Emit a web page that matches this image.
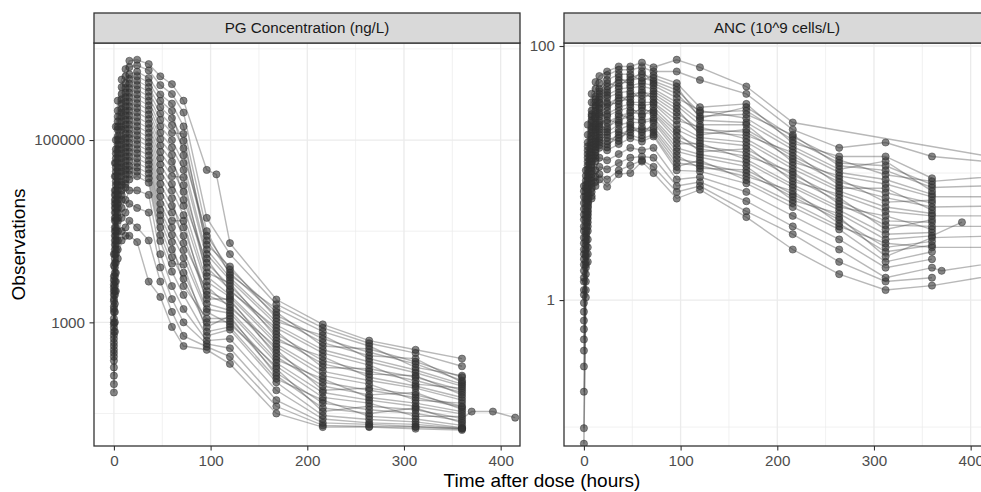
<!DOCTYPE html>
<html>
<head>
<meta charset="utf-8">
<script src="https://cdn.jsdelivr.net/npm/d3@7"></script>
<style>
  body { margin: 0; background: #fff; }
  text { font-family: 'Liberation Sans', Arial, sans-serif; }
</style>
</head>
<body>
<div id="chart"></div>
<script>
// nominal sampling times (hours) and observed values, one row per time, one column per subject
const pgTimes = [0, 1, 2, 4, 8, 12, 16, 24, 36, 48, 60, 72, 96, 120, 168, 216, 264, 312, 360]
const pgValues = [
  [5600, 4200, 3200, 2900, 2600, 2400, 2200, 2000, 1800, 1700, 1500, 1400, 1300, 1100, 1000, 950, 870, 790, 720, 660, 600, 550, 500, 460, 420, 380, 320, 260, 210, 170],
  [56000, 40000, 28000, 25000, 22000, 20000, 18000, 16000, 14000, 13000, 11000, 10000, 8900, 7900, 7100, 6300, 5600, 5000, 4500, 4000, 3500, 3200, 2800, 2500, 2200, 2000, 1600, 1300, 1000, 790],
  [140000, 100000, 79000, 71000, 63000, 56000, 50000, 45000, 40000, 35000, 32000, 28000, 25000, 22000, 20000, 18000, 16000, 14000, 13000, 11000, 10000, 8900, 7900, 7100, 6300, 5600, 4500, 3500, 2800, 2200],
  [270000, 210000, 180000, 160000, 140000, 130000, 110000, 100000, 89000, 79000, 71000, 63000, 56000, 50000, 45000, 40000, 35000, 32000, 28000, 25000, 22000, 20000, 18000, 16000, 14000, 13000, 10000, 7900, 6300, 5000],
  [460000, 380000, 320000, 280000, 250000, 220000, 200000, 180000, 160000, 140000, 130000, 110000, 100000, 89000, 79000, 71000, 63000, 56000, 50000, 45000, 40000, 35000, 32000, 28000, 25000, 22000, 18000, 14000, 10000, 7900],
  [600000, 500000, 417000, 372000, 331000, 295000, 263000, 234000, 209000, 186000, 166000, 148000, 132000, 117000, 105000, 93000, 83000, 74000, 66000, 59000, 52000, 47000, 42000, 37000, 33000, 30000, 22000, 16000, 11000, 8900],
  [740000, 630000, 525000, 468000, 417000, 372000, 331000, 295000, 263000, 234000, 209000, 186000, 166000, 148000, 132000, 117000, 105000, 93000, 83000, 74000, 66000, 59000, 52000, 47000, 42000, 37000, 28000, 20000, 13000, 8900],
  [760000, 660000, 562000, 501000, 447000, 398000, 355000, 316000, 282000, 251000, 224000, 200000, 178000, 158000, 141000, 126000, 112000, 100000, 89000, 79000, 71000, 63000, 56000, 50000, 45000, 40000, 28000, 18000, 11000, 7600],
  [680000, 580000, 479000, 427000, 380000, 339000, 302000, 269000, 240000, 214000, 191000, 170000, 151000, 135000, 120000, 107000, 95000, 85000, 76000, 68000, 60000, 54000, 48000, 43000, 38000, 34000, 25000, 16000, 7900, 2800],
  [500000, 400000, 316000, 269000, 229000, 195000, 166000, 141000, 120000, 102000, 87000, 74000, 63000, 54000, 46000, 39000, 33000, 28000, 24000, 20000, 17000, 15000, 13000, 11000, 9100, 7800, 5600, 4000, 2800, 1900],
  [410000, 320000, 251000, 209000, 174000, 145000, 120000, 100000, 83000, 69000, 58000, 48000, 40000, 33000, 28000, 23000, 19000, 16000, 13000, 11000, 9100, 7600, 6300, 5200, 4400, 3600, 2500, 1800, 1300, 890],
  [270000, 200000, 141000, 68000, 98000, 81000, 117000, 56000, 47000, 22000, 32000, 27000, 39000, 19000, 15000, 7400, 11000, 8900, 13000, 6200, 5100, 2500, 3500, 3000, 4300, 2000, 1400, 1000, 710, 550],
  [47000, 14000, 10000, 8900, 7900, 7100, 6300, 5600, 5000, 4500, 4000, 3500, 3200, 2800, 2500, 2200, 2000, 1800, 1600, 1400, 1300, 1100, 1000, 890, 790, 710, 630, 580, 540, 500],
  [7400, 5600, 3300, 3800, 3500, 4100, 3100, 2900, 2200, 2500, 2300, 2700, 2000, 1900, 1450, 1700, 1550, 1800, 1350, 1260, 955, 1100, 1020, 1180, 891, 832, 660, 520, 420, 350],
  [1780, 1580, 1410, 1300, 1200, 1110, 1020, 940, 870, 800, 740, 680, 630, 580, 540, 500, 460, 420, 390, 360, 330, 310, 280, 260, 240, 220, 180, 140, 120, 100],
  [950, 870, 790, 550, 660, 600, 720, 500, 460, 320, 380, 350, 420, 290, 260, 180, 220, 200, 240, 170, 150, 105, 130, 115, 140, 95, 87, 79, 74, 71],
  [630, 590, 550, 510, 470, 430, 400, 370, 340, 310, 290, 270, 250, 230, 210, 190, 180, 160, 150, 140, 130, 120, 110, 100, 93, 86, 79, 76, 72, 71],
  [500, 460, 320, 370, 350, 400, 300, 280, 210, 250, 230, 260, 200, 190, 140, 160, 150, 170, 130, 120, 93, 110, 100, 115, 87, 81, 76, 72, 71, 68],
  [400, 330, 260, 250, 230, 220, 210, 200, 190, 180, 170, 160, 150, 140, 130, 120, 117, 111, 105, 99, 93, 88, 83, 79, 74, 70, 69, 68, 68, 66]
]
// off-schedule samples: [subject, time, value]
const pgLate = [[0, 106, 42000], [21, 370, 105], [21, 392, 105], [21, 415, 90]]

const ancTimes = [0, 2, 4, 8, 12, 16, 24, 36, 48, 60, 72, 96, 120, 168, 216, 264, 312, 360, 432]
const ancValues = [
  [7.9, 7.2, 6.5, 5.8, 5.2, 4.7, 4.3, 3.8, 3.5, 3.1, 2.8, 2.5, 2.3, 2.1, 1.9, 1.7, 1.5, 1.4, 1.2, 1.1, 0.95, 0.81, 0.69, 0.59, 0.49, 0.40, 0.30, 0.19, 0.098, 0.074],
  [10.5, 9.5, 8.7, 8.1, 7.6, 7.1, 6.6, 6.2, 5.8, 5.4, 5.0, 4.7, 4.4, 4.1, 3.8, 3.5, 3.3, 3.1, 2.9, 2.7, 2.5, 2.3, 2.2, 2.0, 1.9, 1.8, 1.6, 1.4, 1.2, 1.05],
  [24, 20, 17.4, 16.2, 15.1, 14.1, 13.2, 12.3, 11.5, 10.7, 10.0, 9.3, 8.7, 8.1, 7.6, 7.1, 6.6, 6.2, 5.8, 5.4, 5.0, 4.7, 4.4, 4.1, 3.8, 3.5, 3.0, 2.6, 2.3, 2.0],
  [42, 36, 31, 29, 28, 26, 25, 23, 22, 21, 19.5, 18.4, 17.4, 16.4, 15.5, 14.6, 13.8, 13.0, 12.3, 11.6, 11.0, 10.4, 9.8, 9.2, 8.7, 8.2, 7.6, 7.1, 6.6, 6.3],
  [52, 46, 40, 38, 36, 34, 33, 31, 29, 28, 27, 25, 24, 23, 22, 21, 19.6, 18.6, 17.7, 16.8, 16.0, 15.2, 14.5, 13.7, 13.1, 12.4, 10.5, 9.3, 8.5, 7.9],
  [58, 51, 46, 44, 42, 40, 38, 36, 35, 33, 32, 30, 29, 28, 26, 25, 24, 23, 22, 21, 20, 19, 18.2, 17.4, 16.6, 15.8, 13.2, 11.2, 9.8, 8.9],
  [63, 59, 54, 51, 48, 45, 43, 41, 39, 36, 35, 33, 31, 29, 28, 26, 25, 23, 22, 21, 20, 19, 17.8, 16.8, 15.9, 15.1, 12.6, 10.7, 8.9, 7.8],
  [69, 65, 60, 48, 54, 51, 57, 46, 43, 35, 39, 37, 41, 33, 31, 25, 28, 26, 29, 24, 22, 17.9, 20, 18.9, 21, 16.9, 14.1, 12.0, 10.5, 9.8],
  [69, 65, 60, 57, 54, 52, 49, 47, 44, 42, 40, 38, 36, 35, 33, 31, 30, 28, 27, 25, 24, 23, 22, 21, 19.8, 18.8, 15.8, 13.2, 11.5, 10.0],
  [74, 68, 53, 60, 56, 63, 51, 48, 38, 43, 41, 45, 36, 34, 28, 31, 29, 33, 26, 25, 19.8, 22, 21, 23, 18.7, 17.7, 15.1, 13.5, 12.6, 12.3],
  [68, 63, 59, 56, 53, 51, 49, 46, 44, 42, 40, 38, 36, 35, 33, 31, 30, 29, 27, 26, 25, 23, 22, 21, 20, 19.4, 15.8, 13.2, 11.2, 10.0],
  [78, 63, 51, 48, 45, 42, 39, 36, 34, 32, 30, 28, 26, 24, 22, 21, 19.5, 18.2, 17.0, 15.8, 14.8, 13.8, 12.9, 12.0, 11.2, 10.5, 8.9, 7.9, 7.1, 6.3],
  [68, 54, 33, 27, 30, 28, 31, 26, 24, 20, 22, 21, 23, 19.0, 18.0, 14.7, 16.3, 15.5, 17.1, 14.0, 13.3, 10.9, 12.0, 11.4, 12.6, 10.3, 9.3, 8.5, 7.9, 7.4],
  [48, 42, 35, 33, 31, 29, 27, 25, 24, 22, 21, 19.8, 18.6, 17.5, 16.4, 15.5, 14.5, 13.6, 12.8, 12.1, 11.3, 10.6, 10.0, 9.4, 8.8, 8.3, 7.1, 6.0, 5.0, 4.5],
  [25, 22, 17.2, 19.3, 18.2, 20, 16.2, 15.3, 12.2, 13.6, 12.9, 14.5, 11.5, 10.8, 8.6, 9.7, 9.1, 10.2, 8.1, 7.7, 6.1, 6.8, 6.5, 7.2, 5.8, 5.4, 4.6, 3.8, 3.3, 2.5],
  [null, 15.8, 13.5, 12.7, 12.0, 11.4, 10.7, 10.1, 9.5, 9.0, 8.5, 8.0, 7.6, 7.2, 6.8, 6.4, 6.0, 5.7, 5.4, 5.1, 4.8, 4.5, 4.3, 4.0, 3.8, 3.6, 3.0, 2.5, 2.0, 1.6],
  [null, 17.4, 13.5, 9.7, 11.4, 10.5, 12.4, 8.9, 8.2, 5.9, 7.0, 6.4, 7.6, 5.4, 5.0, 3.6, 4.2, 3.9, 4.6, 3.3, 3.0, 2.2, 2.6, 2.4, 2.8, 2.0, 1.8, 1.5, 1.4, 1.2],
  [null, 13.5, 9.1, 8.6, 8.1, 7.7, 7.2, 6.8, 6.5, 6.1, 5.8, 5.4, 5.1, 4.8, 4.6, 4.3, 4.1, 3.8, 3.6, 3.4, 3.2, 3.1, 2.9, 2.7, 2.6, 2.4, 2.1, 1.8, 1.5, 1.3],
  [13, 12, null, 9.5, null, 8, null, null, 6.5, null, null, 5.5, null, null, 4.6, null, null, 3.8, null, null, null, 3.2, null, null, 2.6, null, null, 2.0, null, 1.6]
]
const ancLate = [[27, 370, 1.7], [20, 391, 4.1]]

const xTicks = [0, 100, 200, 300, 400]
const xMinor = [50, 150, 250, 350]
const pgTicks = [1000, 100000]
const pgMinor = [100, 10000, 1000000]
const ancTicks = [1, 100]
const ancMinor = [0.1, 10]

const width = 981
const height = 492
const panelTop = 43
const panelBottom = 446
const panelWidth = 426
const stripTop = 13

const svg = d3
  .select('#chart')
  .append('svg')
  .attr('width', width)
  .attr('height', height)

const xPositionScale = d3
  .scaleLinear()
  .domain([-20.6, 420])
  .range([0, panelWidth])

function toSubjects(times, rows, late) {
  return d3.range(rows[0].length).map(k => {
    const pts = times
      .map((t, i) => ({ t: t, v: rows[i][k] }))
      .filter(d => d.v != null)
    late.filter(l => l[0] === k).forEach(l => pts.push({ t: l[1], v: l[2] }))
    return pts.sort((a, b) => a.t - b.t)
  })
}

const panels = [
  {
    id: 'pg',
    label: 'PG Concentration (ng/L)',
    left: 94,
    subjects: toSubjects(pgTimes, pgValues, pgLate),
    yDomain: [44, 1160000],
    yTicks: pgTicks,
    yMinor: pgMinor
  },
  {
    id: 'anc',
    label: 'ANC (10^9 cells/L)',
    left: 564,
    subjects: toSubjects(ancTimes, ancValues, ancLate),
    yDomain: [0.071, 105.6],
    yTicks: ancTicks,
    yMinor: ancMinor
  }
]

panels.forEach(p => {
  const yPositionScale = d3
    .scaleLog()
    .domain(p.yDomain)
    .range([panelBottom - panelTop, 0])

  const g = svg
    .append('g')
    .attr('transform', 'translate(' + p.left + ',' + panelTop + ')')

  g.append('clipPath')
    .attr('id', 'clip-' + p.id)
    .append('rect')
    .attr('width', panelWidth)
    .attr('height', panelBottom - panelTop)

  // grid
  g.selectAll('.minor-x')
    .data(xMinor)
    .enter()
    .append('line')
    .attr('x1', d => xPositionScale(d))
    .attr('x2', d => xPositionScale(d))
    .attr('y1', 0)
    .attr('y2', panelBottom - panelTop)
    .attr('stroke', '#ebebeb')
    .attr('stroke-width', 0.7)
  g.selectAll('.minor-y')
    .data(p.yMinor)
    .enter()
    .append('line')
    .attr('x1', 0)
    .attr('x2', panelWidth)
    .attr('y1', d => yPositionScale(d))
    .attr('y2', d => yPositionScale(d))
    .attr('stroke', '#ebebeb')
    .attr('stroke-width', 0.7)
  g.selectAll('.major-x')
    .data(xTicks)
    .enter()
    .append('line')
    .attr('x1', d => xPositionScale(d))
    .attr('x2', d => xPositionScale(d))
    .attr('y1', 0)
    .attr('y2', panelBottom - panelTop)
    .attr('stroke', '#ebebeb')
    .attr('stroke-width', 1.3)
  g.selectAll('.major-y')
    .data(p.yTicks)
    .enter()
    .append('line')
    .attr('x1', 0)
    .attr('x2', panelWidth)
    .attr('y1', d => yPositionScale(d))
    .attr('y2', d => yPositionScale(d))
    .attr('stroke', '#ebebeb')
    .attr('stroke-width', 1.3)

  const plot = g.append('g').attr('clip-path', 'url(#clip-' + p.id + ')')

  const line = d3
    .line()
    .x(d => xPositionScale(d.t))
    .y(d => yPositionScale(d.v))

  plot
    .selectAll('.subject')
    .data(p.subjects)
    .enter()
    .append('path')
    .attr('class', 'subject')
    .attr('d', line)
    .attr('fill', 'none')
    .attr('stroke', '#333333')
    .attr('stroke-opacity', 0.35)
    .attr('stroke-width', 1.4)

  plot
    .selectAll('.obs')
    .data(p.subjects.flat())
    .enter()
    .append('circle')
    .attr('class', 'obs')
    .attr('cx', d => xPositionScale(d.t))
    .attr('cy', d => yPositionScale(d.v))
    .attr('r', 3.6)
    .attr('fill', '#333333')
    .attr('fill-opacity', 0.6)
    .attr('stroke', '#333333')
    .attr('stroke-opacity', 0.6)
    .attr('stroke-width', 0.8)

  // axes
  const yAxis = d3
    .axisLeft(yPositionScale)
    .tickValues(p.yTicks)
    .tickFormat(d => String(d))
    .tickSize(4.5)
    .tickPadding(4.5)
  const yg = g.append('g').attr('class', 'axis y-axis').call(yAxis)

  const xAxis = d3
    .axisBottom(xPositionScale)
    .tickValues(xTicks)
    .tickFormat(d => String(d))
    .tickSize(4.5)
    .tickPadding(4.7)
  const xg = g
    .append('g')
    .attr('class', 'axis x-axis')
    .attr('transform', 'translate(0,' + (panelBottom - panelTop) + ')')
    .call(xAxis)

  ;[yg, xg].forEach(a => {
    a.select('.domain').remove()
    a.selectAll('line').attr('stroke', '#333333').attr('stroke-width', 1.1)
    a.selectAll('text')
      .attr('fill', '#4d4d4d')
      .attr('font-size', 15.2)
      .attr('font-family', "'Liberation Sans', Arial, sans-serif")
  })

  g.append('rect')
    .attr('width', panelWidth)
    .attr('height', panelBottom - panelTop)
    .attr('fill', 'none')
    .attr('stroke', '#333333')
    .attr('stroke-width', 1.3)

  // strip
  svg
    .append('rect')
    .attr('x', p.left)
    .attr('y', stripTop)
    .attr('width', panelWidth)
    .attr('height', panelTop - stripTop)
    .attr('fill', '#d9d9d9')
    .attr('stroke', '#333333')
    .attr('stroke-width', 1.3)

  svg
    .append('text')
    .attr('x', p.left + panelWidth / 2)
    .attr('y', (stripTop + panelTop) / 2)
    .attr('dy', '0.35em')
    .attr('text-anchor', 'middle')
    .attr('font-size', 15.2)
    .attr('fill', '#1a1a1a')
    .text(p.label)
})

svg
  .append('text')
  .attr('x', (94 + 564 + panelWidth) / 2)
  .attr('y', 487)
  .attr('text-anchor', 'middle')
  .attr('font-size', 19)
  .attr('fill', '#000')
  .text('Time after dose (hours)')

svg
  .append('text')
  .attr('transform', 'translate(25,' + (panelTop + panelBottom) / 2 + ') rotate(-90)')
  .attr('text-anchor', 'middle')
  .attr('font-size', 19)
  .attr('fill', '#000')
  .text('Observations')
</script>
</body>
</html>
